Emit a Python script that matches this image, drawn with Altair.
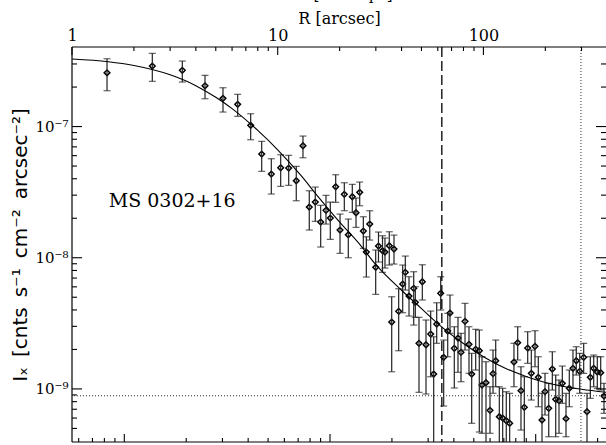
import altair as alt
import pandas as pd

# ---------------- data ----------------
# Radius [arcsec] of each profile bin
R = [1.480, 2.457, 3.438, 4.432, 5.42, 6.39, 7.39, 8.36, 9.31, 10.34,
     11.31, 12.31, 13.27, 14.24, 15.23, 16.18, 17.17, 18.02, 19.14, 20.09,
     21.08, 22.04, 23.05, 24.03, 25.04, 26.08, 26.97, 28.02, 29.95, 30.9,
     32.32, 33.23, 34.87, 36.76, 35.83, 38.74, 40.52, 41.72, 43.49, 45.84,
     46.67, 48.63, 50.47, 52.6, 55.43, 57.33, 59.29, 62.0, 64.12, 67.07,
     68.81, 72.2, 75.25, 77.83, 81.4, 85.11, 87.72, 91.75, 95.52, 98.45,
     102.95, 107.67, 111.35, 114.77, 119.5, 124.1, 129.2, 134.2, 140.8, 146.8,
     152.3, 158.1, 164.2, 171.0, 178.2, 184.9, 192.7, 199.3, 207.8, 216.3,
     224.7, 233.1, 241.9, 252.1, 261.6, 272.6, 282.8, 293.9, 307.3, 318.9,
     331.0, 343.8, 357.9, 371.8, 385.8]

# Surface brightness [cnts s^-1 cm^-2 arcsec^-2]
I = [2.570e-7, 2.891e-7, 2.682e-7, 2.046e-7, 1.640e-7, 1.476e-7, 1.021e-7, 6.17e-8, 4.345e-8, 4.853e-8,
     4.828e-8, 3.863e-8, 7.141e-8, 2.434e-8, 2.658e-8, 1.871e-8, 2.298e-8, 2.007e-8, 3.477e-8, 1.626e-8,
     3.043e-8, 1.497e-8, 2.917e-8, 2.203e-8, 3.151e-8, 1.598e-8, 1.105e-8, 1.806e-8, 8.449e-9, 1.228e-8,
     1.131e-8, 1.105e-8, 1.235e-8, 1.165e-8, 3.235e-9, 3.904e-9, 6.302e-9, 7.741e-9, 5.106e-9, 5.845e-9,
     4.573e-9, 2.227e-9, 6.563e-9, 2.172e-9, 2.62e-9, 1.299e-9, 3.124e-9, 5.354e-9, 1.741e-9, 2.763e-9,
     3.789e-9, 2.039e-9, 2.443e-9, 1.901e-9, 3.275e-9, 2.188e-9, 1.299e-9, 2.004e-9, 1.955e-9, 1.071e-9,
     1.115e-9, 6.869e-10, 1.306e-9, 1.640e-9, 6.139e-10, 6.0e-10, 5.723e-10, 5.468e-10, 1.603e-9, 2.25e-9,
     9.689e-10, 7.241e-10, 2.05e-9, 1.315e-9, 2.112e-9, 1.226e-9, 5.794e-10, 9.522e-10, 7.114e-10, 1.418e-9,
     8.331e-10, 8.13e-10, 1.103e-9, 5.928e-10, 1.011e-9, 1.436e-9, 1.640e-9, 1.362e-9, 1.741e-9, 6.702e-10,
     1.226e-9, 1.436e-9, 1.345e-9, 1.329e-9, 8.828e-10]

I_hi = [3.287e-7, 3.613e-7, 3.157e-7, 2.456e-7, 1.976e-7, 1.760e-7, 1.252e-7, 7.714e-8, 5.683e-8, 6.095e-8,
        6.032e-8, 4.973e-8, 8.465e-8, 3.241e-8, 3.458e-8, 2.508e-8, 2.99e-8, 2.658e-8, 4.292e-8, 2.153e-8,
        3.729e-8, 1.972e-8, 3.626e-8, 2.851e-8, 3.776e-8, 2.053e-8, 1.445e-8, 2.282e-8, 1.145e-8, 1.570e-8,
        1.471e-8, 1.413e-8, 1.578e-8, 1.489e-8, 5.043e-9, 5.803e-9, 8.797e-9, 1.030e-8, 7.165e-9, 7.823e-9,
        6.012e-9, 3.513e-9, 8.842e-9, 3.351e-9, 3.924e-9, 2.499e-9, 4.539e-9, 7.165e-9, 2.359e-9, 3.769e-9,
        5.196e-9, 2.979e-9, 3.513e-9, 2.653e-9, 4.492e-9, 2.979e-9, 1.868e-9, 2.847e-9, 2.811e-9, 1.760e-9,
        1.612e-9, 1.039e-9, 1.979e-9, 2.359e-9, 1.039e-9, 1.011e-9, 9.522e-10, 9.259e-10, 2.227e-9, 2.979e-9,
        1.476e-9, 1.239e-9, 2.729e-9, 1.979e-9, 2.777e-9, 1.760e-9, 9.259e-10, 1.315e-9, 1.103e-9, 1.921e-9,
        1.276e-9, 1.169e-9, 1.494e-9, 9.259e-10, 1.393e-9, 1.979e-9, 2.097e-9, 1.868e-9, 2.227e-9, 9.259e-10,
        1.760e-9, 1.813e-9, 1.760e-9, 1.760e-9, 1.103e-9]

I_lo = [1.875e-7, 2.211e-7, 2.184e-7, 1.629e-7, 1.290e-7, 1.196e-7, 7.933e-8, 4.556e-8, 3.059e-8, 3.501e-8,
        3.563e-8, 2.719e-8, 5.784e-8, 1.626e-8, 1.894e-8, 1.207e-8, 1.806e-8, 1.381e-8, 2.644e-8, 1.080e-8,
        2.282e-8, 1.0e-8, 2.218e-8, 1.705e-8, 2.49e-8, 1.179e-8, 7.127e-9, 1.364e-8, 5.26e-9, 9.274e-9,
        7.741e-9, 8.346e-9, 8.797e-9, 8.953e-9, 1.352e-9, 1.955e-9, 3.809e-9, 5.673e-9, 3.594e-9, 3.069e-9,
        3.513e-9, 9.422e-10, 4.761e-9, 9.145e-10, 1.239e-9, 3.42e-10, 2.227e-9, 3.994e-9, 7.407e-10, 1.760e-9,
        2.653e-9, 1.016e-9, 1.338e-9, 1.135e-9, 1.979e-9, 1.315e-9, 5.468e-10, 1.393e-9, 4.694e-10, 4.588e-10,
        3.42e-10, 4.588e-10, 9.259e-10, 1.039e-9, 3.42e-10, 3.42e-10, 3.42e-10, 3.42e-10, 1.039e-9, 1.661e-9,
        4.861e-10, 3.42e-10, 1.567e-9, 8.23e-10, 1.476e-9, 7.316e-10, 3.42e-10, 6.325e-10, 4.322e-10, 9.808e-10,
        4.322e-10, 4.588e-10, 7.768e-10, 4.322e-10, 7.316e-10, 1.011e-9, 1.276e-9, 9.259e-10, 1.315e-9, 3.42e-10,
        8.479e-10, 1.039e-9, 1.011e-9, 9.808e-10, 6.516e-10]

# fitted profile
model_R = [1, 1.5, 2, 3, 4, 5, 6, 8, 10, 13, 16, 20, 25, 30, 40, 50, 60,
           80, 100, 130, 160, 200, 250, 300, 400]
model_I = [3.27e-7, 3.12e-7, 2.92e-7, 2.48e-7, 2.05e-7, 1.67e-7, 1.37e-7, 9.34e-8,
           6.65e-8, 4.22e-8, 2.82e-8, 1.87e-8, 1.27e-8, 8.85e-9, 5.65e-9, 4.1e-9,
           3.15e-9, 2.22e-9, 1.76e-9, 1.42e-9, 1.25e-9, 1.12e-9, 1.04e-9, 9.95e-10, 9.4e-10]

# reference lines
R_dashed = [62.8]
R_dotted = [298.0]
I_background = [8.87e-10]

# annotation
label_R = [1.508]
label_I = [2.434e-8]
label_text = ["MS 0302+16"]

# axis tick values
R_top_major = [1, 10, 100]
R_top_minor = [2, 3, 4, 5, 6, 7, 8, 9, 20, 30, 40, 50, 60, 70, 80, 90, 200, 300]
kpc_major = [10, 100, 1000]
kpc_minor = [6, 7, 8, 9, 20, 30, 40, 50, 60, 70, 80, 90,
             200, 300, 400, 500, 600, 700, 800, 900, 2000]
I_major = [1e-9, 1e-8, 1e-7]
I_minor = [5e-10, 6e-10, 7e-10, 8e-10, 9e-10,
           2e-9, 3e-9, 4e-9, 5e-9, 6e-9, 7e-9, 8e-9, 9e-9,
           2e-8, 3e-8, 4e-8, 5e-8, 6e-8, 7e-8, 8e-8, 9e-8,
           2e-7, 3e-7]

KPC_PER_ARCSEC = 5.568
R_MIN, R_MAX = 1.0, 394.5
I_MIN, I_MAX = 3.94e-10, 4.04e-7

# ---------------- chart ----------------
W, H = 534, 395
SERIF = "DejaVu Serif"
SANS = "DejaVu Sans"
INK = "#222222"

xs = alt.Scale(type="log", domain=[R_MIN, R_MAX], nice=False)
ys = alt.Scale(type="log", domain=[I_MIN, I_MAX], nice=False)
kpc_scale = alt.Scale(type="log", domain=[R_MIN * KPC_PER_ARCSEC, R_MAX * KPC_PER_ARCSEC], nice=False)

pts = pd.DataFrame({"R": R, "I": I, "lo": I_lo, "hi": I_hi})
model = pd.DataFrame({"R": model_R, "I": model_I})

x_axis = alt.Axis(orient="top", values=R_top_major, format="d", ticks=False, domain=False,
                  grid=False, labelFont=SERIF, labelFontSize=16, labelPadding=4,
                  labelColor="black", labelFlush=False, labelOverlap=False,
                  title="R [arcsec]", titleFont=SERIF, titleFontSize=16,
                  titleFontWeight="normal", titleColor="black",
                  titleX=W / 2, titleY=-29, titleAlign="center", titleBaseline="middle")
y_axis = alt.Axis(orient="left", values=I_major, ticks=False, domain=False, grid=False,
                  labelExpr="datum.value < 5e-9 ? '10⁻⁹' : (datum.value < 5e-8 ? '10⁻⁸' : '10⁻⁷')",
                  labelFont=SERIF, labelFontSize=15, labelPadding=4, labelColor="black",
                  labelOverlap=False,
                  title="Iₓ\u2002[cnts\u2002s⁻¹\u2002cm⁻²\u2002arcsec⁻²]", titleFont=SANS, titleFontSize=20,
                  titleFontWeight="normal", titleColor="black", titleAngle=-90,
                  titleX=-52, titleY=H / 2, titleAlign="center", titleBaseline="middle")

# every layer of the main panel shares the same axis definitions
xR = alt.X("R:Q", scale=xs, axis=x_axis)
yI = alt.Y("I:Q", scale=ys, axis=y_axis)

bars = alt.Chart(pts).mark_rule(color=INK, strokeWidth=1.2, clip=True).encode(
    x=xR, y=alt.Y("lo:Q", scale=ys, axis=y_axis), y2="hi:Q")
cap_lo = alt.Chart(pts).mark_tick(orient="horizontal", size=7, thickness=1.2, color=INK, clip=True).encode(
    x=xR, y=alt.Y("lo:Q", scale=ys, axis=y_axis))
cap_hi = alt.Chart(pts).mark_tick(orient="horizontal", size=7, thickness=1.2, color=INK, clip=True).encode(
    x=xR, y=alt.Y("hi:Q", scale=ys, axis=y_axis))
points = alt.Chart(pts).mark_point(shape="diamond", filled=False, size=32, strokeWidth=1.5,
                                   color="black", opacity=1, clip=True).encode(x=xR, y=yI)
curve = alt.Chart(model).mark_line(color="black", strokeWidth=1.1, interpolate="monotone", clip=True).encode(
    x=xR, y=yI)

dashed = alt.Chart(pd.DataFrame({"R": R_dashed})).mark_rule(
    color="black", strokeWidth=1.3, strokeDash=[10, 4]).encode(x=xR)
dotted_v = alt.Chart(pd.DataFrame({"R": R_dotted})).mark_rule(
    color="#333333", strokeWidth=1, strokeDash=[1, 2]).encode(x=xR)
dotted_h = alt.Chart(pd.DataFrame({"I": I_background})).mark_rule(
    color="#333333", strokeWidth=1, strokeDash=[1, 2]).encode(y=yI)

label = alt.Chart(pd.DataFrame({"R": label_R, "I": label_I, "t": label_text})).mark_text(
    align="left", baseline="alphabetic", font=SERIF, fontSize=19, color="black").encode(
    x=xR, y=yI, text="t:N")

# clipped title of the panel above (only its descenders are visible)
cut_title = alt.Chart(pd.DataFrame({"t": ["R [h₅₀⁻¹ kpc]"]})).mark_text(
    align="center", baseline="alphabetic", font=SERIF, fontSize=15, color="black").encode(
    x=alt.value(W / 2 + 6), y=alt.value(-47.5), text="t:N")

one = pd.DataFrame({"a": [0]})
frame_left = alt.Chart(one).mark_rule(color="black", strokeWidth=1.2).encode(
    x=alt.value(0), y=alt.value(0), y2=alt.value(H))
frame_top = alt.Chart(one).mark_rule(color="black", strokeWidth=1.2).encode(
    x=alt.value(0), x2=alt.value(W), y=alt.value(0))
frame_bottom = alt.Chart(one).mark_rule(color="black", strokeWidth=1.2).encode(
    x=alt.value(0), x2=alt.value(W), y=alt.value(H))

top_major = alt.Chart(pd.DataFrame({"R": R_top_major})).mark_rule(color="black", strokeWidth=1.1).encode(
    x=xR, y=alt.value(0), y2=alt.value(8))
top_minor = alt.Chart(pd.DataFrame({"R": R_top_minor})).mark_rule(color="black", strokeWidth=1.1).encode(
    x=xR, y=alt.value(0), y2=alt.value(4))
left_major = alt.Chart(pd.DataFrame({"I": I_major})).mark_rule(color="black", strokeWidth=1.1).encode(
    y=yI, x=alt.value(0), x2=alt.value(10))
left_minor = alt.Chart(pd.DataFrame({"I": I_minor})).mark_rule(color="black", strokeWidth=1.1).encode(
    y=yI, x=alt.value(0), x2=alt.value(5))
right_major = alt.Chart(pd.DataFrame({"I": I_major})).mark_rule(color="black", strokeWidth=1.1).encode(
    y=yI, x=alt.value(W - 10), x2=alt.value(W))
right_minor = alt.Chart(pd.DataFrame({"I": I_minor})).mark_rule(color="black", strokeWidth=1.1).encode(
    y=yI, x=alt.value(W - 5), x2=alt.value(W))

main = alt.layer(points, bars, cap_lo, cap_hi, curve, dashed, dotted_v, dotted_h, label,
                 cut_title, frame_left, frame_top, frame_bottom,
                 top_major, top_minor, left_major, left_minor, right_major, right_minor)

xk = alt.X("kpc:Q", scale=kpc_scale, axis=None)
bottom_major = alt.Chart(pd.DataFrame({"kpc": kpc_major})).mark_rule(color="black", strokeWidth=1.1).encode(
    x=xk, y=alt.value(H - 8), y2=alt.value(H))
bottom_minor = alt.Chart(pd.DataFrame({"kpc": kpc_minor})).mark_rule(color="black", strokeWidth=1.1).encode(
    x=xk, y=alt.value(H - 4), y2=alt.value(H))
bottom = alt.layer(bottom_major, bottom_minor)

chart = alt.layer(main, bottom).resolve_scale(x="independent").properties(
    width=W, height=H,
    padding={"left": 72, "top": 47, "right": 0, "bottom": 3},
    autosize=alt.AutoSizeParams(type="none"),
    background="white",
).configure_view(stroke=None)

chart.save("out.html", embed_options={"renderer": "svg", "actions": False})
